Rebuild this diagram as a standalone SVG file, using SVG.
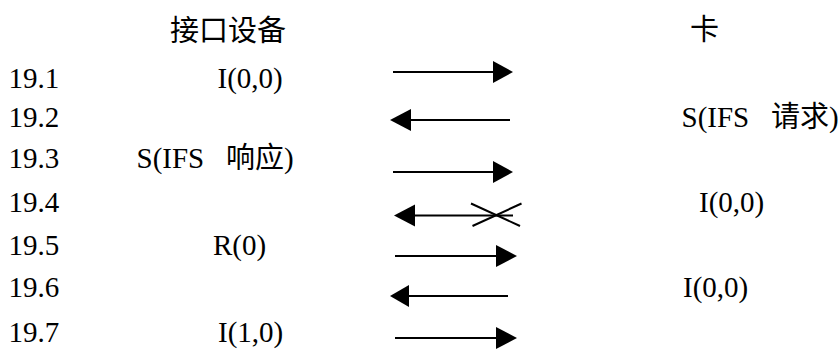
<svg xmlns="http://www.w3.org/2000/svg" width="839" height="349" viewBox="0 0 839 349">
<style>
text{font-family:"Liberation Serif","Noto Sans CJK SC",serif;font-size:29px;fill:#000;white-space:pre}
.h{font-family:"Noto Sans CJK SC","Noto Sans",sans-serif;font-size:29px}
.ln{stroke:#000;stroke-width:2;fill:none}
.hd{fill:#000}
</style>
<rect width="839" height="349" fill="#fff"/>
<g id="header-device"><text class="h" x="170" y="41">接口设备</text></g>
<g id="header-card"><text class="h" x="690" y="40">卡</text></g>
<g id="row-numbers">
<text x="8.5" y="88">19.1</text>
<text x="8.5" y="127">19.2</text>
<text x="8.5" y="168">19.3</text>
<text x="8.5" y="212">19.4</text>
<text x="8.5" y="255">19.5</text>
<text x="8.5" y="297">19.6</text>
<text x="8.5" y="342">19.7</text>
</g>
<g id="left-labels">
<text x="217.5" y="88">I(0,0)</text>
<text x="136.5" y="168">S(IFS   响应)</text>
<text x="213" y="255">R(0)</text>
<text x="218" y="342">I(1,0)</text>
</g>
<g id="right-labels">
<text x="681.5" y="127">S(IFS   请求)</text>
<text x="699" y="212">I(0,0)</text>
<text x="683" y="297">I(0,0)</text>
</g>
<g id="connectors">
<line class="ln" x1="393" y1="72" x2="495" y2="72"/><polygon class="hd" points="493,61 513,72 493,83"/>
<line class="ln" x1="409" y1="120" x2="510" y2="120"/><polygon class="hd" points="411,109 390,120 411,131"/>
<line class="ln" x1="393" y1="172" x2="495" y2="172"/><polygon class="hd" points="493,161 513,172 493,183"/>
<line class="ln" x1="413" y1="215.5" x2="513" y2="215.5"/><polygon class="hd" points="415,204.5 394,215.5 415,226.5"/>
<line class="ln" x1="471" y1="203.5" x2="520" y2="226"/><line class="ln" x1="472.5" y1="226" x2="521.5" y2="203.5"/>
<line class="ln" x1="395" y1="256" x2="498" y2="256"/><polygon class="hd" points="496,245 517,256 496,267"/>
<line class="ln" x1="407" y1="296" x2="508" y2="296"/><polygon class="hd" points="409,285 390,296 409,307"/>
<line class="ln" x1="395" y1="338" x2="498" y2="338"/><polygon class="hd" points="496,327 517,338 496,349"/>
</g>
</svg>
